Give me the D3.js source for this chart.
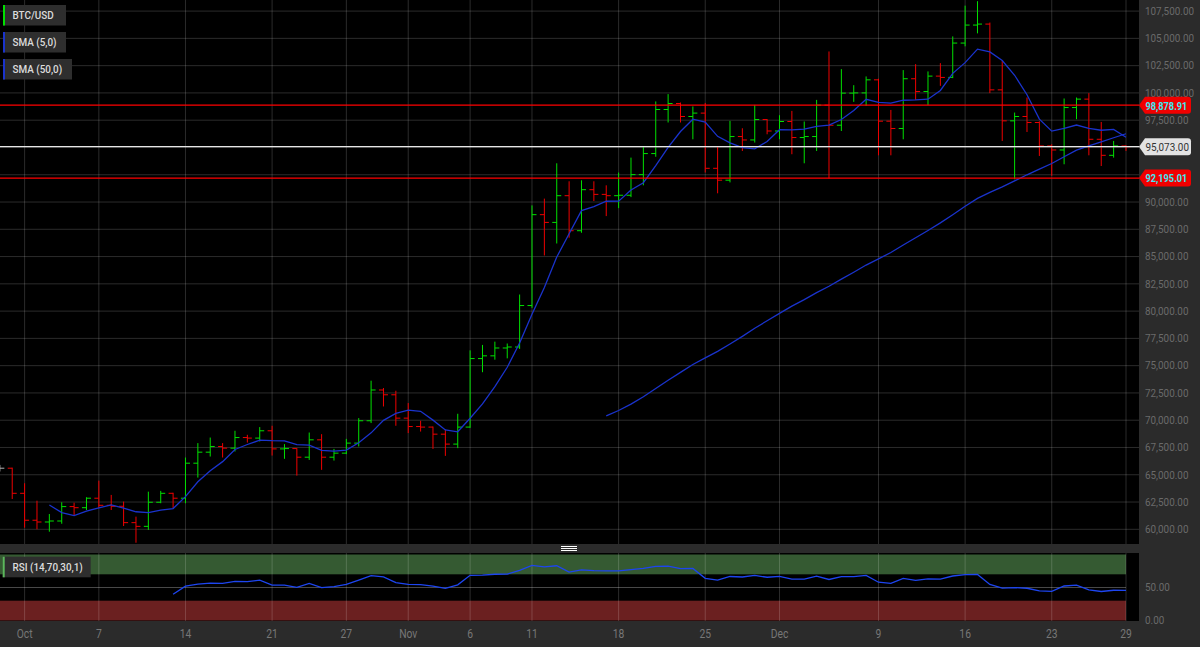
<!DOCTYPE html>
<html>
<head>
<meta charset="utf-8">
<script src="https://cdn.jsdelivr.net/npm/d3@7"></script>
<style>
  html, body { margin: 0; padding: 0; background: #000; overflow: hidden; }
  svg { display: block; font-family: Roboto, "Open Sans", sans-serif; }
</style>
</head>
<body>
<svg id="chart"></svg>
<script>
// daily BTC/USD bars, one per day starting at firstDay
const firstDay = "2024-09-29";
const opens = [65600, 65600, 63300, 60830, 60670, 60760, 62080, 61980, 62850, 62200,
  62110, 60610, 60270, 62480, 63300, 62850, 66060, 67070, 67590, 67440,
  68410, 68360, 69030, 67370, 67400, 66610, 68200, 66610, 66980, 67900,
  69950, 72770, 72330, 70190, 69420, 69370, 68720, 67810, 69370, 75650,
  75900, 76620, 76710, 80510, 88840, 88130, 90580, 87370, 91130, 90700,
  90580, 90620, 92510, 94440, 98480, 99030, 97840, 98150, 93090, 92000,
  96000, 95690, 97560, 96510, 97380, 95910, 96000, 98880, 97040, 99980,
  100000, 101200, 97410, 96740, 101300, 100130, 101540, 101420, 104570, 106220,
  106310, 100280, 97440, 97840, 97290, 95140, 94770, 98660, 99430, 95750,
  94280, 95140];
const highs = [65900, 65650, 64220, 62620, 61400, 62480, 62440, 62940, 64460, 63150,
  62540, 61160, 63450, 63520, 63350, 66580, 67900, 68410, 67900, 69030,
  68660, 69370, 69490, 67810, 67440, 68870, 68720, 67370, 68290, 70190,
  73620, 72950, 72700, 71570, 69950, 69420, 69120, 70590, 76400, 76900,
  77200, 77030, 81520, 89690, 90310, 93550, 91900, 91990, 91900, 91530,
  92700, 94070, 95080, 99220, 99890, 99120, 98760, 99080, 95080, 97440,
  96760, 98900, 97600, 97960, 98350, 97380, 99360, 103800, 102180, 100710,
  101510, 101300, 98440, 102090, 102640, 101970, 102730, 105180, 108000, 108410,
  106450, 102950, 98200, 99580, 97400, 95300, 99490, 99580, 99980, 97340,
  95600, 95200];
const lows = [65300, 62780, 60150, 60000, 59780, 60510, 61250, 61770, 61930, 61770,
  60300, 58770, 59940, 62390, 61930, 62390, 64740, 66670, 66580, 67130,
  67950, 68050, 66760, 66460, 64920, 66360, 65450, 66300, 66890, 67590,
  69740, 71260, 69490, 68820, 68960, 67370, 66730, 67440, 69300, 74400,
  75550, 75670, 76530, 80300, 85100, 86200, 86730, 87180, 90090, 88710,
  89440, 90450, 91530, 94150, 97290, 97290, 95750, 92700, 90800, 91800,
  94680, 95450, 96210, 95750, 94380, 93550, 94680, 92150, 96510, 99180,
  98810, 94280, 94280, 95750, 99360, 98880, 100650, 101360, 104270, 105460,
  99980, 95600, 92080, 96420, 94220, 92400, 93460, 97590, 94280, 93300,
  94070, 94680];
const closes = [65600, 63300, 60830, 60670, 60760, 62080, 61980, 62850, 62200, 62110,
  60610, 60270, 62480, 63300, 62850, 66060, 67070, 67590, 67440, 68410,
  68360, 69030, 67370, 67400, 66610, 68200, 66610, 66980, 67900, 69950,
  72770, 72330, 70190, 69420, 69370, 68720, 67810, 69370, 75650, 75900,
  76620, 76710, 80510, 88840, 88130, 90580, 87370, 91130, 90700, 90580,
  90620, 92510, 94440, 98480, 99030, 97840, 98150, 93090, 92000, 96000,
  95690, 97560, 96510, 97380, 95910, 96000, 98880, 97040, 99980, 100000,
  101200, 97410, 96740, 101300, 100130, 101540, 101420, 104570, 106220, 106310,
  100280, 97440, 97840, 97290, 95140, 94770, 98660, 99430, 95750, 94280,
  95140, 95073];

const dateTicks = ["2024-10-01", "2024-10-07", "2024-10-14", "2024-10-21", "2024-10-27",
  "2024-11-01", "2024-11-06", "2024-11-11", "2024-11-18", "2024-11-25",
  "2024-12-01", "2024-12-09", "2024-12-16", "2024-12-23", "2024-12-29"];
const dateTickLabels = ["Oct", "7", "14", "21", "27", "Nov", "6", "11", "18", "25",
  "Dec", "9", "16", "23", "29"];
const priceTicks = [60000, 62500, 65000, 67500, 70000, 72500, 75000, 77500, 80000,
  82500, 85000, 87500, 90000, 92500, 95000, 97500, 100000, 102500, 105000, 107500];
const levels = [98878.91, 95073.00, 92195.01];
const levelKinds = ["high", "last", "low"];
const rsiTicks = [50, 0];
const legendNames = ["BTC/USD", "SMA (5,0)", "SMA (50,0)"];
const rsiName = "RSI (14,70,30,1)";

const W = 1200, H = 647;
const plotRight = 1139;
const mainBottom = 544;
const rsiTop = 553, rsiBottom = 621;

const col = {
  up: "#00e000", down: "#ee0000", flat: "#b0b0b0",
  sma: "#1a33cc", rsi: "#1d45f0",
  grid: "rgba(255,255,255,0.17)", panel: "#2b2b2b", box: "#2e2e2e",
  axisText: "#6a6a6a"
};

function sma(vals, n) {
  return vals.map((v, i) => i < n - 1 ? null : d3.mean(vals.slice(i - n + 1, i + 1)));
}

function rsi(vals, n) {
  const out = vals.map(() => null);
  let g = 0, l = 0;
  for (let i = 1; i <= n; i++) {
    const ch = vals[i] - vals[i - 1];
    if (ch > 0) g += ch; else l -= ch;
  }
  g /= n; l /= n;
  out[n] = 100 - 100 / (1 + g / l);
  for (let i = n + 1; i < vals.length; i++) {
    const ch = vals[i] - vals[i - 1];
    g = (g * (n - 1) + Math.max(ch, 0)) / n;
    l = (l * (n - 1) + Math.max(-ch, 0)) / n;
    out[i] = 100 - 100 / (1 + g / l);
  }
  return out;
}

// condensed looking text: scale glyphs horizontally
function label(g, x, y, txt, size, fill, opts = {}) {
  return g.append("text")
    .attr("transform", `translate(${x},${y}) scale(${opts.sx || 0.86},1)`)
    .attr("font-size", size)
    .attr("font-weight", opts.weight || 400)
    .attr("text-anchor", opts.anchor || "start")
    .attr("dominant-baseline", "central")
    .attr("fill", fill)
    .text(txt);
}

function main() {
  const parse = d3.utcParse("%Y-%m-%d");
  const start = parse(firstDay);
  const bars = closes.map((c, i) => ({
    date: d3.utcDay.offset(start, i), o: opens[i], h: highs[i], l: lows[i], c: c
  }));
  const sma5 = sma(closes, 5), sma50 = sma(closes, 50), rsi14 = rsi(closes, 14);
  const lastDate = bars[bars.length - 1].date;

  const x = d3.scaleUtc()
    .domain([parse("2024-10-01"), parse("2024-12-29")])
    .range([24.6, 1126]);
  const y = d3.scaleLinear().domain([60000, 107500]).range([529.3, 11.1]);
  const r = d3.scaleLinear().domain([0, 100]).range([620.5, 554.5]);

  const svg = d3.select("#chart").attr("width", W).attr("height", H);
  const defs = svg.append("defs");
  defs.append("clipPath").attr("id", "clipMain")
    .append("rect").attr("x", 0).attr("y", 0).attr("width", plotRight).attr("height", mainBottom);
  defs.append("clipPath").attr("id", "clipRsi")
    .append("rect").attr("x", 0).attr("y", rsiTop).attr("width", plotRight).attr("height", rsiBottom - rsiTop);

  svg.append("rect").attr("width", W).attr("height", H).attr("fill", "#000");
  // right price panel, separator, bottom time axis
  svg.append("rect").attr("x", plotRight).attr("y", 0).attr("width", W - plotRight).attr("height", H).attr("fill", col.panel);
  svg.append("rect").attr("x", 0).attr("y", mainBottom).attr("width", W).attr("height", rsiTop - mainBottom).attr("fill", col.panel);
  svg.append("rect").attr("x", 0).attr("y", rsiBottom).attr("width", W).attr("height", H - rsiBottom).attr("fill", col.panel);

  // ---- main panel ----
  const gm = svg.append("g").attr("clip-path", "url(#clipMain)");

  gm.selectAll("line.hgrid").data(priceTicks).enter().append("line")
    .attr("x1", 0).attr("x2", plotRight)
    .attr("y1", d => y(d)).attr("y2", d => y(d))
    .attr("stroke", col.grid);
  gm.selectAll("line.vgrid").data(dateTicks).enter().append("line")
    .attr("x1", d => x(parse(d))).attr("x2", d => x(parse(d)))
    .attr("y1", 0).attr("y2", mainBottom)
    .attr("stroke", col.grid);

  const barCol = d => d.c > d.o ? col.up : (d.c < d.o ? col.down : col.flat);
  const bg = gm.append("g").selectAll("g").data(bars).enter().append("g")
    .attr("stroke", barCol).attr("stroke-width", 1);
  bg.append("line")
    .attr("x1", d => x(d.date)).attr("x2", d => x(d.date))
    .attr("y1", d => y(d.h)).attr("y2", d => y(d.l));
  bg.append("line")
    .attr("x1", d => x(d.date) - 4.5).attr("x2", d => x(d.date))
    .attr("y1", d => y(d.o)).attr("y2", d => y(d.o));
  bg.append("line")
    .attr("x1", d => x(d.date)).attr("x2", d => x(d.date) + 4.5)
    .attr("y1", d => y(d.c)).attr("y2", d => y(d.c));

  const line = d3.line().defined(d => d.v != null).x(d => x(d.date)).y(d => y(d.v));
  [sma5, sma50].forEach(s => {
    gm.append("path")
      .datum(bars.map((b, i) => ({date: b.date, v: s[i]})))
      .attr("d", line)
      .attr("fill", "none").attr("stroke", col.sma).attr("stroke-width", 1.3);
  });

  gm.selectAll("line.level").data(levels).enter().append("line")
    .attr("x1", 0).attr("x2", plotRight)
    .attr("y1", d => y(d)).attr("y2", d => y(d))
    .attr("stroke", (d, i) => levelKinds[i] === "last" ? "#e6e6e6" : "#ff0000")
    .attr("stroke-width", 1.3);

  // price axis labels, the ones under a level marker are covered
  const ga = svg.append("g");
  priceTicks
    .filter(p => levels.every(v => Math.abs(y(p) - y(v)) > 10))
    .forEach(p => label(ga, 1145, y(p), d3.format(",.2f")(p), 11.5, col.axisText));

  // level markers on the axis
  levels.forEach((p, i) => {
    const yc = y(p), hh = 8.5, isLast = levelKinds[i] === "last";
    ga.append("path")
      .attr("d", `M${plotRight},${yc} L${plotRight + 6},${yc - hh} L${1188},${yc - hh} Q${1191},${yc - hh} ${1191},${yc - hh + 3} L${1191},${yc + hh - 3} Q${1191},${yc + hh} ${1188},${yc + hh} L${plotRight + 6},${yc + hh} Z`)
      .attr("fill", isLast ? "#e3e3e3" : "#f00000");
    label(ga, 1145.5, yc + 0.5, d3.format(",.2f")(p), 11.5, isLast ? "#333" : "#3de8f5",
      {weight: isLast ? 400 : 700, sx: isLast ? 0.86 : 0.8});
  });

  // legend boxes
  const legendCols = [col.up, col.sma, col.sma];
  const legendW = [63, 63, 69];
  legendNames.forEach((n, i) => {
    const ty = 5 + i * 27;
    svg.append("rect").attr("x", 3).attr("y", ty).attr("width", legendW[i]).attr("height", 20.5).attr("fill", col.box);
    svg.append("rect").attr("x", 3).attr("y", ty).attr("width", 2).attr("height", 20.5).attr("fill", legendCols[i]);
    label(svg, 12.5, ty + 10.5, n, 11, "#dcdcdc", {weight: 500, sx: 0.9});
  });

  // ---- RSI panel ----
  const gr = svg.append("g").attr("clip-path", "url(#clipRsi)");
  const bandW = x(lastDate);
  gr.append("rect").attr("x", 0).attr("y", r(100)).attr("width", bandW).attr("height", r(70) - r(100)).attr("fill", "#355a32");
  gr.append("rect").attr("x", 0).attr("y", r(30)).attr("width", bandW).attr("height", r(0) - r(30)).attr("fill", "#6b2020");
  gr.append("line").attr("x1", 0).attr("x2", bandW).attr("y1", r(50)).attr("y2", r(50)).attr("stroke", "#484848");
  gr.selectAll("line.vgrid").data(dateTicks).enter().append("line")
    .attr("x1", d => x(parse(d))).attr("x2", d => x(parse(d)))
    .attr("y1", rsiTop).attr("y2", rsiBottom)
    .attr("stroke", col.grid);
  gr.append("path")
    .datum(bars.map((b, i) => ({date: b.date, v: rsi14[i]})))
    .attr("d", d3.line().defined(d => d.v != null).x(d => x(d.date)).y(d => r(d.v)))
    .attr("fill", "none").attr("stroke", col.rsi).attr("stroke-width", 1.3);

  svg.append("rect").attr("x", 2.7).attr("y", 556.7).attr("width", 88).attr("height", 20.6).attr("fill", col.box);
  svg.append("rect").attr("x", 2.7).attr("y", 556.7).attr("width", 2).attr("height", 20.6).attr("fill", "#5cb85c");
  label(svg, 12.5, 567.5, rsiName, 11, "#dcdcdc", {weight: 500, sx: 0.9});

  rsiTicks.forEach(v => label(svg, 1145, r(v), d3.format(".2f")(v), 11.5, col.axisText));

  // separator grip
  [546.5, 548.5, 550.5].forEach(gy => {
    svg.append("line").attr("x1", 561).attr("x2", 577).attr("y1", gy).attr("y2", gy)
      .attr("stroke", "#fff").attr("stroke-width", 1);
  });

  // time axis labels
  const gt = svg.append("g");
  dateTicks.forEach((d, i) => label(gt, x(parse(d)), 634, dateTickLabels[i], 12, "#777", {anchor: "middle"}));
}

window.addEventListener("load", main);
</script>
</body>
</html>
